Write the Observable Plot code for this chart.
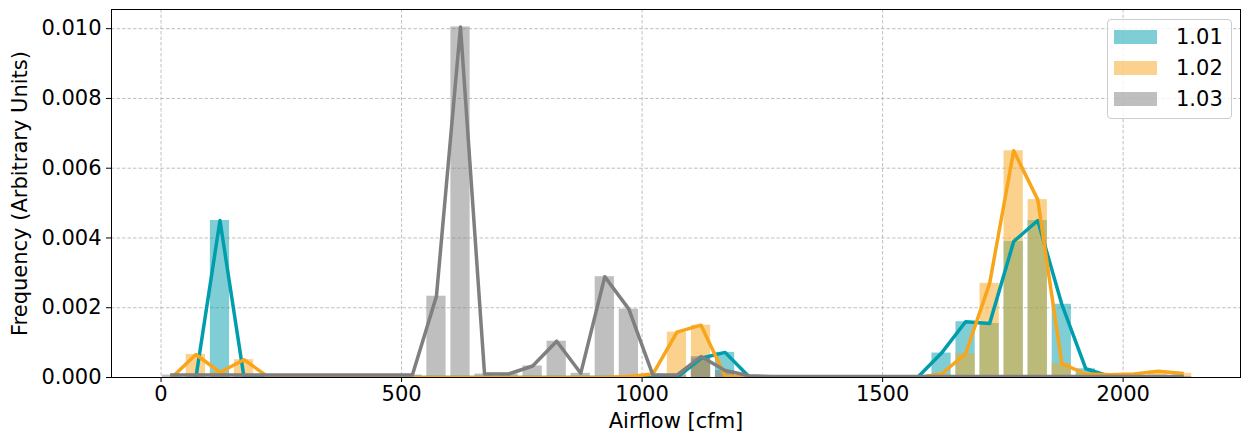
<!DOCTYPE html>
<html>
<head>
<meta charset="utf-8">
<script src="https://cdn.jsdelivr.net/npm/d3@7"></script>
<script src="https://cdn.jsdelivr.net/npm/@observablehq/plot@0.6"></script>
<style>
  body { margin: 0; background: #fff; }
  #chart { position: relative; width: 1241px; height: 434px; font-family: "DejaVu Sans", sans-serif; }
  #chart svg { display: block; }
  .legend {
    position: absolute; left: 1107px; top: 19px; width: 125px; height: 100px;
    box-sizing: border-box; border: 1px solid #cccccc; border-radius: 4px;
    background: rgba(255, 255, 255, 0.8);
  }
  .legend .item { position: absolute; left: 6px; height: 24px; display: flex; align-items: center; }
  .legend .swatch { width: 43px; height: 14px; }
  .legend .name { margin-left: 19px; font-size: 21px; color: #000; line-height: 24px; }
</style>
</head>
<body>
<div id="chart"></div>
<script>
// Histogram bin centres (cfm), 50 cfm wide bins
const airflowBins = [
  22.5, 72.5, 122.5, 172.5, 222.5, 272.5, 322.5, 372.5, 422.5, 472.5,
  522.5, 572.5, 622.5, 672.5, 722.5, 772.5, 822.5, 872.5, 922.5, 972.5,
  1022.5, 1072.5, 1122.5, 1172.5, 1222.5, 1272.5, 1322.5, 1372.5, 1422.5, 1472.5,
  1522.5, 1572.5, 1622.5, 1672.5, 1722.5, 1772.5, 1822.5, 1872.5, 1922.5, 1972.5,
  2022.5, 2072.5, 2122.5
];

// Normalised frequency per bin for each setting (null = outside the series' range)
const freq101 = [
  null, 0, 0.0045, 0, 0, 0, 0, 0, 0, 0,
  0, 0, 0, 0, 0, 0, 0, 0, 0, 0,
  0, 0, 0.00055, 0.00072, 0.00002, 0, 0, 0, 0, 0,
  0, 0, 0.0007, 0.0016, 0.00155, 0.0039, 0.0045, 0.0021, 0.00025, 0.00003,
  null, null, null
];
const freq102 = [
  0, 0.00066, 0.00015, 0.00051, 0.00002, 0, 0, 0, 0, 0,
  0, 0, 0, 0, 0, 0, 0, 0, 0, 0.00003,
  0.0001, 0.0013, 0.0015, 0.00004, 0, 0, 0, 0, 0, 0,
  0, 0, 0.0001, 0.00068, 0.0027, 0.0065, 0.0051, 0.0004, 0.0001, 0.00008,
  0.0001, 0.00018, 0.00012
];
const freq103 = [
  0.00007, 0.00007, 0.00007, 0.00007, 0.00007, 0.00007, 0.00007, 0.00007, 0.00007, 0.00007,
  0.00007, 0.00233, 0.01005, 0.0001, 0.0001, 0.00033, 0.00104, 0.00012, 0.00289, 0.00196,
  0.00007, 0.00007, 0.0006, 0.0002, 0.00005, 0.00003, 0.00003, 0.00003, 0.00003, 0.00003,
  0.00003, 0.00003, 0.00003, 0.00003, 0.00003, 0.00003, 0.00003, 0.00003, 0.00003, 0.00003,
  0.00003, 0.00003, 0.00003
];

const seriesNames = ["1.01", "1.02", "1.03"];
const seriesColors = ["#009dac", "#f8a51c", "#7f7f7f"];
const seriesValues = [freq101, freq102, freq103];

const xTicks = [0, 500, 1000, 1500, 2000];
const yTicks = [0, 0.002, 0.004, 0.006, 0.008, 0.010];

const binWidth = 50;
const barFraction = 0.8;

// One table per series: bin centre + frequency
const tables = seriesValues.map((vals, i) =>
  airflowBins
    .map((x, j) => ({series: seriesNames[i], airflow: x, freq: vals[j]}))
    .filter(d => d.freq != null)
);

const half = binWidth * barFraction / 2;

const barMarks = tables.map((rows, i) =>
  Plot.rect(rows, {
    x1: d => d.airflow - half,
    x2: d => d.airflow + half,
    y1: () => 0,
    y2: "freq",
    fill: seriesColors[i],
    fillOpacity: 0.5,
    clip: true
  })
);

const lineMarks = tables.map((rows, i) =>
  Plot.line(rows, {
    x: "airflow",
    y: "freq",
    stroke: seriesColors[i],
    strokeWidth: 3.5,
    strokeLinejoin: "round",
    strokeLinecap: "square",
    clip: true
  })
);

const gridStyle = {stroke: "#b0b0b0", strokeOpacity: 1, strokeWidth: 0.8, strokeDasharray: "3.5,2"};

const chart = Plot.plot({
  width: 1241,
  height: 434,
  marginLeft: 111,
  marginRight: 1,
  marginTop: 9,
  marginBottom: 57,
  style: {fontFamily: "DejaVu Sans", fontSize: "21px", color: "#000", background: "#fff"},
  x: {domain: [-103, 2244]},
  y: {domain: [0, 0.01055]},
  marks: [
    Plot.gridX(xTicks, gridStyle),
    Plot.gridY(yTicks, gridStyle),
    ...barMarks,
    ...lineMarks,
    Plot.frame({stroke: "#000", strokeWidth: 1}),
    Plot.axisX({
      ticks: xTicks, tickSize: 5, tickPadding: 4, tickFormat: d => String(d),
      label: "Airflow [cfm]", labelAnchor: "center", labelArrow: "none", labelOffset: 50
    }),
    Plot.axisY({
      ticks: yTicks, tickSize: 5, tickPadding: 5, tickFormat: d3.format(".3f"),
      label: "Frequency (Arbitrary Units)", labelAnchor: "center", labelArrow: "none", labelOffset: 99
    })
  ]
});

const root = document.getElementById("chart");
root.appendChild(chart);

// Legend drawn inside the plot's upper-right corner
const legend = document.createElement("div");
legend.className = "legend";
seriesNames.forEach((name, i) => {
  const item = document.createElement("div");
  item.className = "item";
  item.style.top = (5 + i * 31) + "px";
  const sw = document.createElement("div");
  sw.className = "swatch";
  sw.style.background = seriesColors[i];
  sw.style.opacity = 0.5;
  const label = document.createElement("span");
  label.className = "name";
  label.textContent = name;
  item.appendChild(sw);
  item.appendChild(label);
  legend.appendChild(item);
});
root.appendChild(legend);
</script>
</body>
</html>
